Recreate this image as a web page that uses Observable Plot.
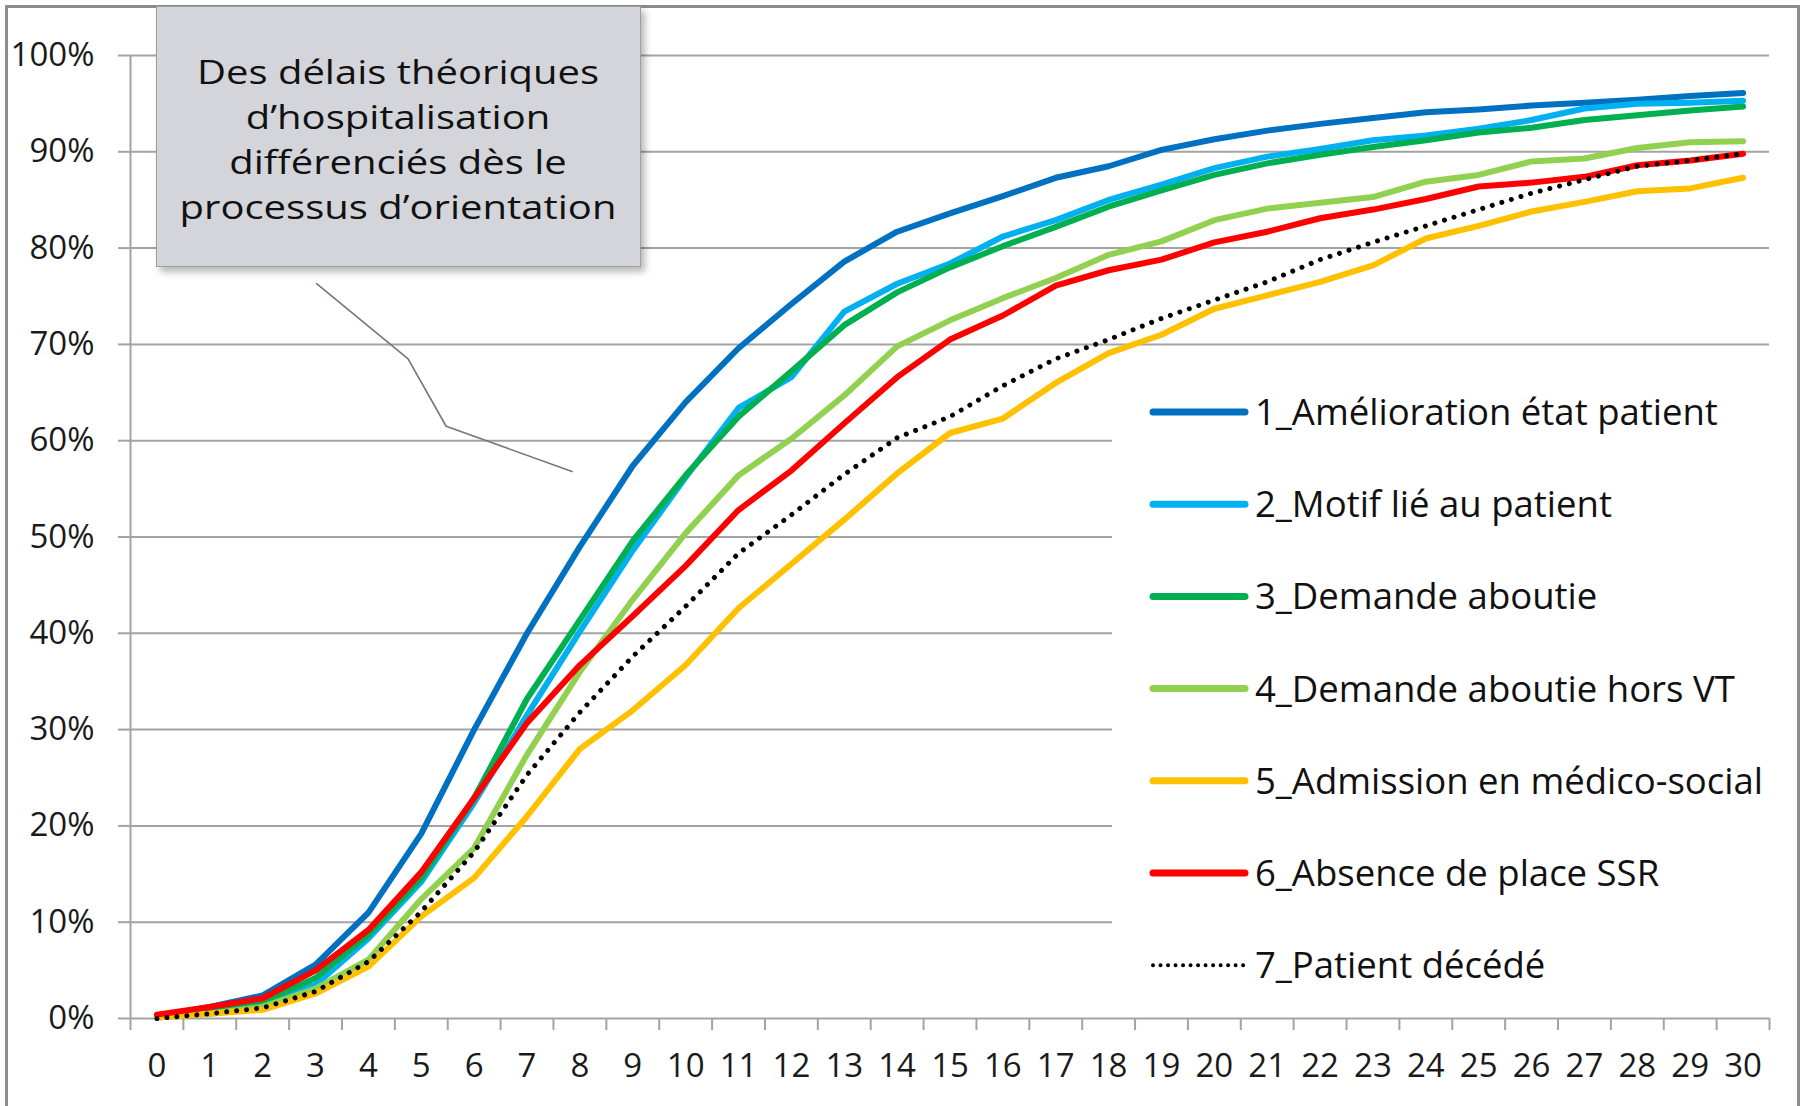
<!DOCTYPE html>
<html>
<head>
<meta charset="utf-8">
<script src="https://cdn.jsdelivr.net/npm/d3@7"></script>
<script src="https://cdn.jsdelivr.net/npm/@observablehq/plot@0.6"></script>
<style>
  html, body { margin: 0; padding: 0; background: #fff; }
  #wrap { position: relative; width: 1804px; height: 1106px; overflow: hidden; background: #fff; font-family: "Open Sans", sans-serif; }
  #frame { position: absolute; left: 5px; top: 5px; width: 1795px; height: 1300px; border: 3px solid #8c8c8c; box-sizing: border-box; }
  #chart { position: absolute; left: 0; top: 0; }
  #note { position: absolute; left: 156px; top: 6px; width: 485px; height: 261px; box-sizing: border-box;
          background: #d3d5da; border: 1.5px solid #9b9ea4; box-shadow: 4px 5px 7px rgba(0,0,0,0.28); }
  #overlay { position: absolute; left: 0; top: 0; }
</style>
</head>
<body>
<div id="wrap">
  <div id="frame"></div>
  <div id="chart"></div>
  <div id="note"></div>
  <svg id="overlay" width="1804" height="1106"></svg>
</div>
<script>
// ---- Data (cumulative share, %) ----
const jours = d3.range(0, 31);
const seriesNames = [
  "1_Amélioration état patient",
  "2_Motif lié au patient",
  "3_Demande aboutie",
  "4_Demande aboutie hors VT",
  "5_Admission en médico-social",
  "6_Absence de place SSR",
  "7_Patient décédé"
];
const seriesColors = ["#0070C0", "#00B0F0", "#00B050", "#92D050", "#FFC000", "#FF0000", "#000000"];

const amelioration = [0.2, 1.2, 2.4, 5.6, 11.0, 19.2, 30.0, 40.0, 49.0, 57.4, 64.0, 69.6, 74.2, 78.6, 81.7, 83.6, 85.4, 87.3, 88.5, 90.2, 91.3, 92.2, 92.9, 93.5, 94.1, 94.4, 94.8, 95.1, 95.4, 95.8, 96.1];
const motifPatient = [0.2, 0.8, 1.7, 3.5, 8.3, 14.2, 22.4, 31.5, 40.2, 48.6, 56.2, 63.4, 66.6, 73.4, 76.3, 78.4, 81.2, 82.9, 85.0, 86.6, 88.3, 89.5, 90.3, 91.2, 91.7, 92.4, 93.3, 94.5, 95.0, 95.1, 95.3];
const demandeAboutie = [0.2, 0.8, 1.7, 4.2, 8.7, 14.6, 22.9, 33.2, 41.4, 49.6, 56.4, 62.5, 67.2, 72.0, 75.4, 78.0, 80.2, 82.2, 84.3, 86.0, 87.6, 88.8, 89.7, 90.5, 91.2, 92.0, 92.5, 93.3, 93.8, 94.3, 94.7];
const demandeHorsVT = [0.1, 0.5, 1.2, 3.1, 6.1, 12.4, 17.7, 27.4, 36.0, 43.5, 50.4, 56.4, 60.2, 64.7, 69.8, 72.5, 74.8, 76.9, 79.3, 80.7, 82.9, 84.1, 84.7, 85.3, 86.9, 87.6, 89.0, 89.3, 90.4, 91.0, 91.1];
const medicoSocial = [0.1, 0.5, 0.9, 2.6, 5.4, 10.6, 14.6, 21.0, 28.0, 32.0, 36.7, 42.6, 47.2, 51.8, 56.6, 60.8, 62.3, 66.0, 69.1, 71.0, 73.7, 75.1, 76.5, 78.2, 81.0, 82.3, 83.8, 84.8, 85.9, 86.2, 87.3];
const absencePlace = [0.4, 1.2, 2.1, 5.0, 9.2, 15.2, 22.9, 30.7, 36.7, 41.8, 47.0, 52.8, 56.9, 61.8, 66.6, 70.5, 73.0, 76.1, 77.7, 78.8, 80.6, 81.7, 83.1, 84.0, 85.1, 86.4, 86.8, 87.4, 88.6, 89.1, 89.8];
const patientDecede = [0.0, 0.5, 1.1, 2.8, 5.9, 11.1, 17.3, 25.3, 31.8, 37.6, 42.8, 48.3, 52.3, 56.5, 60.3, 62.5, 65.7, 68.5, 70.5, 72.7, 74.6, 76.5, 78.8, 80.6, 82.3, 84.0, 85.7, 87.1, 88.5, 89.1, 89.8];

const seriesValues = [amelioration, motifPatient, demandeAboutie, demandeHorsVT, medicoSocial, absencePlace, patientDecede];

const yTicks = d3.range(0, 11).map(d => d / 10);
const xLabels = jours;
const xBoundaries = d3.range(-0.5, 31, 1);

// Annotation text and callout path (in data units: day, share)
const noteLines = ["Des délais théoriques", "d’hospitalisation", "différenciés dès le", "processus d’orientation"];
const calloutPath = [
  {x: 3.02, y: 0.763},
  {x: 4.75, y: 0.685},
  {x: 5.47, y: 0.615},
  {x: 7.85, y: 0.568}
];

// ---- Build table ----
const rows = seriesNames.flatMap((name, i) =>
  seriesValues[i].map((v, j) => ({serie: name, jour: jours[j], part: v / 100}))
);
const solidRows = rows.filter(r => r.serie !== seriesNames[6]);
const dottedRows = rows.filter(r => r.serie === seriesNames[6]);

const gridColor = "#a3a3a3";
const textColor = "#1a1a1a";

const chart = Plot.plot({
  width: 1804,
  height: 1106,
  marginLeft: 130,
  marginRight: 35,
  marginTop: 55,
  marginBottom: 88,
  x: {domain: [-0.5, 30.5], axis: null, label: null},
  y: {domain: [0, 1], axis: null, label: null},
  color: {domain: seriesNames, range: seriesColors},
  style: {fontFamily: "Open Sans", background: "transparent", color: textColor},
  marks: [
    Plot.ruleY(yTicks, {x1: -0.5, x2: 30.5, stroke: gridColor, strokeWidth: 2}),
    Plot.ruleX([-0.5], {y1: 0, y2: 1, stroke: gridColor, strokeWidth: 2}),
    Plot.axisY(yTicks, {tickSize: 12, tickPadding: 24, tickFormat: d3.format(".0%"), fontSize: 33, stroke: gridColor, strokeWidth: 2, fill: textColor}),
    Plot.axisX(xBoundaries, {tickSize: 12, tickFormat: () => "", stroke: gridColor, strokeWidth: 2}),
    Plot.axisX(xLabels, {tickSize: 0, tickPadding: 35, fontSize: 33, fill: textColor}),
    Plot.line(calloutPath, {x: "x", y: "y", stroke: "#6f7684", strokeWidth: 1.6}),
    Plot.line(solidRows, {x: "jour", y: "part", z: "serie", stroke: "serie", strokeWidth: 6, strokeLinejoin: "round", strokeLinecap: "round"}),
    Plot.line(dottedRows, {x: "jour", y: "part", stroke: "#000", strokeWidth: 5, strokeDasharray: "0.01 10", strokeLinecap: "round"})
  ]
});
document.getElementById("chart").appendChild(chart);

// ---- Annotation box text ----
const ns = "http://www.w3.org/2000/svg";
const note = document.getElementById("note");
const noteSvg = document.createElementNS(ns, "svg");
noteSvg.setAttribute("width", 485);
noteSvg.setAttribute("height", 261);
noteSvg.style.position = "absolute";
noteSvg.style.left = "-1.5px";
noteSvg.style.top = "-1.5px";
const g = document.createElementNS(ns, "g");
g.setAttribute("transform", "translate(242,0) scale(1.22,1)");
noteLines.forEach((t, i) => {
  const tx = document.createElementNS(ns, "text");
  tx.setAttribute("x", 0);
  tx.setAttribute("y", 78 + i * 45);
  tx.setAttribute("text-anchor", "middle");
  tx.setAttribute("font-family", "Open Sans");
  tx.setAttribute("font-size", 32.8);
  tx.setAttribute("fill", "#111");
  tx.textContent = t;
  g.appendChild(tx);
});
noteSvg.appendChild(g);
note.appendChild(noteSvg);

// ---- Legend ----
const ov = document.getElementById("overlay");
const bg = document.createElementNS(ns, "rect");
bg.setAttribute("x", 1112); bg.setAttribute("y", 362);
bg.setAttribute("width", 662); bg.setAttribute("height", 640);
bg.setAttribute("fill", "#fff");
ov.appendChild(bg);
seriesNames.forEach((name, i) => {
  const cy = 412 + i * 92.2;
  const ln = document.createElementNS(ns, "line");
  ln.setAttribute("x1", 1153); ln.setAttribute("x2", 1245);
  ln.setAttribute("y1", cy); ln.setAttribute("y2", cy);
  ln.setAttribute("stroke", seriesColors[i]);
  ln.setAttribute("stroke-linecap", "round");
  if (i === 6) {
    ln.setAttribute("stroke-width", 4);
    ln.setAttribute("stroke-dasharray", "0.01 7.5");
  } else {
    ln.setAttribute("stroke-width", 7);
  }
  ov.appendChild(ln);
  const tx = document.createElementNS(ns, "text");
  tx.setAttribute("x", 1255);
  tx.setAttribute("y", cy + 13);
  tx.setAttribute("font-family", "Open Sans");
  tx.setAttribute("font-size", 36.5);
  tx.setAttribute("fill", "#111");
  tx.textContent = name;
  ov.appendChild(tx);
});
</script>
</body>
</html>
